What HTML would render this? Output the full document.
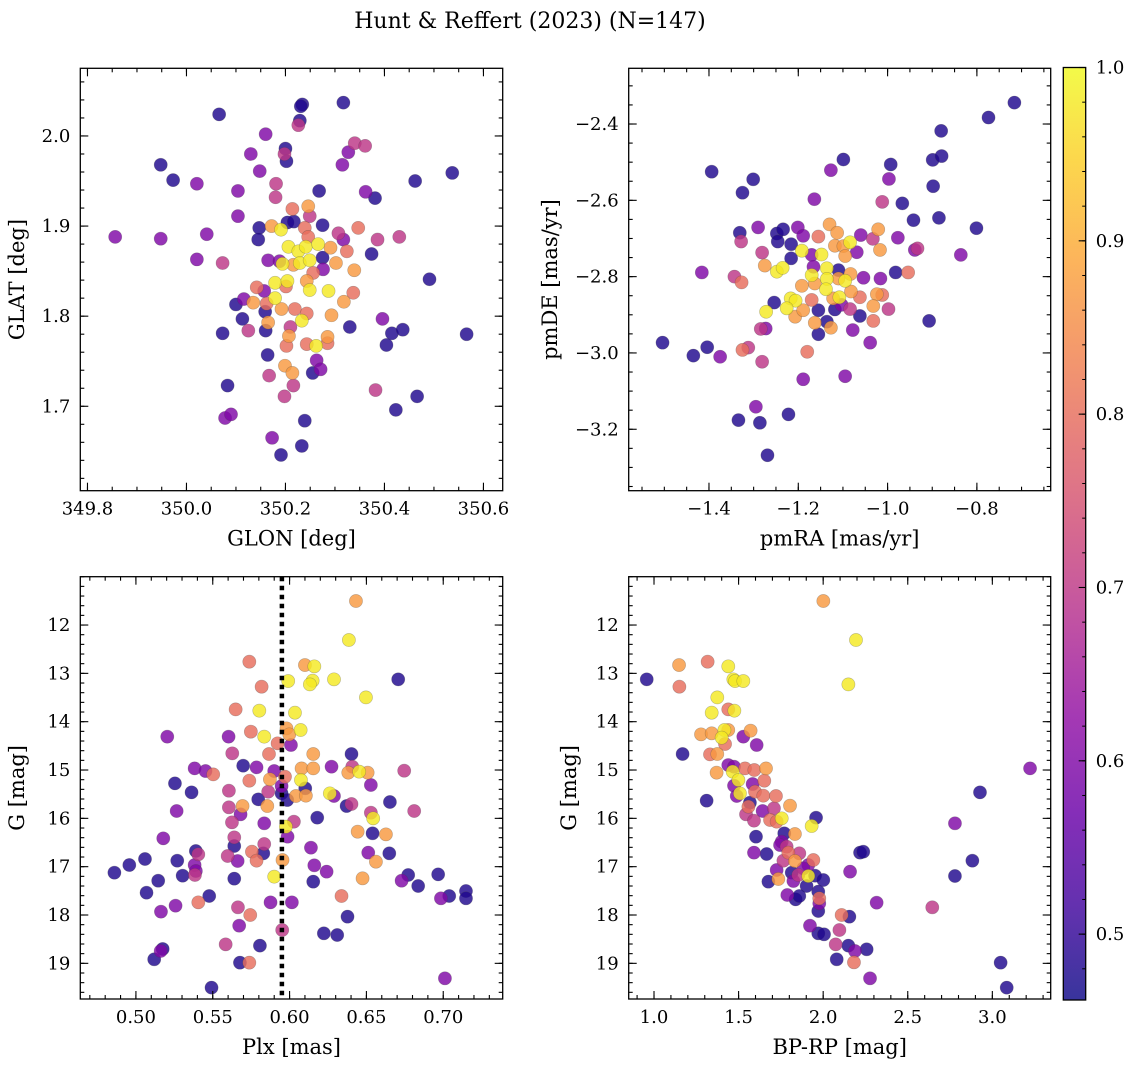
<!DOCTYPE html>
<html><head><meta charset="utf-8"><style>
html,body{margin:0;padding:0;background:#fff;}
svg{display:block;font-family:"DejaVu Serif","Liberation Serif",serif;}
</style></head><body>
<svg id="fig" width="1136" height="1067" viewBox="0 0 1136 1067" xmlns="http://www.w3.org/2000/svg">
<text x="530" y="28" font-size="22" text-anchor="middle">Hunt &amp; Reffert (2023) (N=147)</text>
</svg>
<script>
// ---------- data ----------
const glon1=[350.066,350.234,350.231,350.317,350.229,350.226,350.160,350.340,350.361,350.200,
350.198,350.202,350.130,350.327,349.948,350.315,350.148,350.537,349.973,350.462,
350.021,350.181,350.104,350.268,350.362,350.381,350.180,350.214,350.246,350.249,
350.104,350.172,350.191,350.204,350.217,350.147,350.145,350.239,350.246,350.275,
350.307,350.347,350.317,350.386,350.430,349.856,349.948,350.041,350.206,350.226,
350.241,350.266,350.291,350.324,350.374,350.275,350.021,350.073,350.165,350.188,
350.194,350.216,350.229,350.249,350.276,350.302,350.339,350.256,350.491,350.179,
350.204,350.243,350.201,350.142,350.157,350.249,350.287,350.337,350.116,350.100,
350.135,350.179,350.162,350.192,350.219,350.243,350.293,350.318,350.159,350.113,
350.165,350.233,350.073,350.125,350.160,350.210,350.207,350.202,350.243,350.262,
350.285,350.285,350.330,350.396,350.415,350.437,350.404,350.566,350.164,350.263,
350.271,350.255,350.199,350.214,350.167,350.216,350.083,350.382,350.466,350.198,
350.423,350.078,350.090,350.239,350.173,350.233,350.191];
const glat1=[2.024,2.035,2.033,2.037,2.017,2.012,2.002,1.992,1.989,1.986,
1.980,1.972,1.980,1.982,1.968,1.968,1.961,1.959,1.951,1.950,
1.947,1.947,1.939,1.939,1.938,1.931,1.932,1.919,1.922,1.911,
1.911,1.900,1.896,1.904,1.905,1.898,1.885,1.898,1.888,1.901,
1.892,1.898,1.885,1.885,1.888,1.888,1.886,1.891,1.877,1.872,
1.877,1.880,1.876,1.872,1.869,1.865,1.863,1.859,1.862,1.861,
1.858,1.857,1.859,1.862,1.852,1.859,1.851,1.848,1.841,1.837,
1.839,1.839,1.833,1.832,1.828,1.829,1.828,1.826,1.819,1.813,
1.815,1.820,1.814,1.808,1.808,1.803,1.801,1.816,1.805,1.797,
1.793,1.795,1.781,1.784,1.784,1.788,1.778,1.767,1.769,1.767,
1.777,1.770,1.788,1.797,1.781,1.785,1.768,1.780,1.757,1.751,
1.741,1.737,1.745,1.737,1.734,1.723,1.723,1.718,1.711,1.711,
1.696,1.687,1.691,1.684,1.665,1.656,1.646];
const prob1=[.48,.48,.48,.48,.48,.7,.6,.7,.7,.48,
.7,.48,.6,.6,.48,.6,.6,.48,.48,.48,
.6,.7,.6,.48,.6,.48,.7,.8,.87,.7,
.6,.87,.98,.48,.48,.48,.48,.8,.8,.48,
.7,.8,.6,.7,.7,.6,.6,.6,.98,.98,
.98,.98,.87,.8,.48,.48,.6,.7,.6,.6,
.98,.87,.98,.98,.6,.87,.87,.8,.48,.98,
.98,.87,.8,.8,.6,.98,.98,.8,.6,.48,
.87,.98,.8,.87,.8,.8,.87,.87,.48,.48,
.87,.98,.48,.7,.48,.7,.87,.8,.8,.98,
.87,.8,.48,.6,.48,.48,.48,.48,.48,.6,
.6,.48,.87,.87,.7,.7,.48,.7,.48,.7,
.48,.6,.6,.48,.6,.48,.48];

const pmra2=[-0.716,-0.774,-0.880,-1.099,-0.993,-0.899,-0.879,-1.394,-1.127,-1.301,
-0.997,-1.325,-0.898,-1.164,-1.012,-0.967,-0.942,-0.885,-0.801,-1.331,
-1.290,-1.248,-1.234,-1.201,-1.189,-1.155,-1.130,-1.113,-1.060,-1.021,
-1.328,-1.246,-1.216,-1.281,-1.192,-1.170,-1.148,-1.118,-1.099,-1.084,
-1.095,-1.069,-1.033,-1.017,-0.977,-0.939,-0.933,-0.836,-1.216,-1.275,
-1.248,-1.235,-1.166,-1.136,-1.110,-1.170,-1.136,-1.110,-1.095,-1.083,
-1.054,-1.016,-0.982,-0.954,-1.416,-1.343,-1.327,-1.192,-1.163,-1.138,
-1.082,-1.062,-1.024,-1.012,-1.254,-1.217,-1.206,-1.226,-1.207,-1.189,
-1.170,-1.155,-1.122,-1.108,-1.103,-1.118,-1.084,-1.062,-1.032,-0.998,
-1.272,-1.284,-1.273,-1.163,-1.136,-1.127,-1.155,-1.078,-1.032,-0.907,
-1.504,-1.404,-1.435,-1.375,-1.325,-1.312,-1.281,-1.180,-1.039,-1.189,
-1.095,-1.295,-1.222,-1.334,-1.286,-1.269];
const pmde2=[-2.344,-2.383,-2.418,-2.493,-2.506,-2.494,-2.484,-2.525,-2.521,-2.545,
-2.544,-2.580,-2.563,-2.597,-2.604,-2.608,-2.652,-2.646,-2.673,-2.685,
-2.671,-2.687,-2.676,-2.671,-2.693,-2.695,-2.663,-2.685,-2.691,-2.676,
-2.708,-2.708,-2.715,-2.737,-2.732,-2.743,-2.742,-2.719,-2.720,-2.710,
-2.746,-2.736,-2.701,-2.730,-2.698,-2.730,-2.726,-2.743,-2.752,-2.771,
-2.787,-2.777,-2.774,-2.778,-2.783,-2.796,-2.806,-2.805,-2.811,-2.793,
-2.803,-2.805,-2.789,-2.789,-2.789,-2.800,-2.815,-2.824,-2.818,-2.833,
-2.839,-2.854,-2.846,-2.848,-2.868,-2.857,-2.863,-2.883,-2.905,-2.888,
-2.861,-2.888,-2.857,-2.854,-2.874,-2.886,-2.885,-2.903,-2.877,-2.885,
-2.892,-2.937,-2.936,-2.921,-2.918,-2.934,-2.951,-2.940,-2.916,-2.916,
-2.973,-2.985,-3.007,-3.010,-2.992,-2.986,-3.023,-2.997,-2.973,-3.069,
-3.061,-3.141,-3.161,-3.176,-3.183,-3.268];
const prob2=[.48,.48,.48,.48,.48,.48,.48,.48,.6,.48,
.6,.48,.48,.6,.7,.48,.48,.48,.48,.48,
.6,.48,.48,.6,.6,.8,.87,.87,.6,.87,
.7,.48,.48,.7,.98,.6,.98,.87,.87,.98,
.87,.6,.7,.87,.6,.6,.7,.6,.48,.87,
.98,.98,.6,.98,.48,.98,.98,.87,.98,.87,
.6,.6,.48,.8,.6,.7,.8,.87,.87,.98,
.87,.8,.87,.8,.48,.98,.98,.98,.87,.87,
.8,.48,.87,.98,.6,.48,.7,.48,.87,.7,
.98,.7,.6,.87,.48,.87,.48,.6,.8,.48,
.48,.48,.48,.6,.8,.7,.7,.8,.6,.6,
.6,.6,.48,.48,.48,.48];

const plx3=[0.6432,0.6386,0.5738,0.6100,0.6161,0.5991,0.6150,0.6132,0.6289,0.6707,
0.5818,0.6497,0.5649,0.5803,0.6035,0.6072,0.5980,0.5998,0.5204,0.5603,
0.5748,0.5835,0.5922,0.6009,0.5627,0.5866,0.6154,0.6403,0.5698,0.5785,
0.5382,0.5453,0.5503,0.5900,0.6078,0.6154,0.6273,0.6408,0.6382,0.6453,
0.6508,0.6746,0.5254,0.5738,0.5872,0.5970,0.5948,0.6074,0.6529,0.5362,
0.5605,0.5861,0.5948,0.5985,0.6041,0.6106,0.6102,0.6262,0.6289,0.6653,
0.5796,0.5694,0.5605,0.5855,0.5681,0.6371,0.6403,0.6529,0.6544,0.6811,
0.5265,0.6180,0.5625,0.5835,0.6028,0.5976,0.5987,0.6443,0.6540,0.6627,
0.5178,0.5640,0.5640,0.5835,0.6139,0.5390,0.5406,0.5755,0.5829,0.5597,
0.5785,0.5662,0.5954,0.6512,0.6649,0.6562,0.5059,0.4957,0.5269,0.4860,
0.5382,0.5390,0.5384,0.5304,0.5640,0.5900,0.6161,0.6241,0.6154,0.6475,
0.6772,0.6729,0.6837,0.6967,0.5145,0.5069,0.5477,0.5406,0.5163,0.5258,
0.5664,0.5744,0.5876,0.6015,0.6338,0.6985,0.7039,0.7148,0.7148,0.6377,
0.5672,0.6223,0.6310,0.5952,0.5584,0.5807,0.5174,0.5161,0.5119,0.5677,
0.5738,0.7011,0.5492];
const gmag3=[11.503,12.310,12.759,12.828,12.855,13.159,13.152,13.228,13.124,13.124,
13.276,13.497,13.745,13.772,13.814,14.172,14.138,14.262,14.310,14.310,
14.207,14.310,14.448,14.483,14.655,14.669,14.669,14.669,14.910,14.945,
14.966,15.021,15.090,15.021,14.966,14.966,14.931,14.931,15.055,15.034,
15.055,15.014,15.276,15.221,15.193,15.138,15.331,15.207,15.310,15.462,
15.428,15.448,15.483,15.621,15.538,15.531,15.379,15.483,15.538,15.662,
15.607,15.745,15.772,15.745,15.917,15.745,15.703,15.883,16.000,15.848,
15.848,15.986,16.083,16.103,16.069,16.172,16.379,16.276,16.310,16.331,
16.414,16.393,16.572,16.531,16.607,16.676,16.745,16.690,16.724,16.779,
16.876,16.883,16.862,16.710,16.724,16.897,16.841,16.966,16.876,17.124,
16.966,17.090,17.172,17.186,17.248,17.207,16.972,17.103,17.310,17.241,
17.172,17.290,17.400,17.159,17.290,17.538,17.607,17.738,17.931,17.807,
17.841,18.000,17.738,17.738,17.607,17.655,17.607,17.503,17.655,18.034,
18.221,18.379,18.414,18.310,18.607,18.634,18.703,18.745,18.917,18.986,
18.986,19.310,19.503];
const prob3=[.87,.98,.8,.87,.98,.98,.98,.98,.98,.48,
.8,.98,.8,.98,.98,.98,.87,.87,.6,.6,
.8,.98,.8,.6,.7,.8,.87,.48,.48,.6,
.6,.6,.8,.6,.87,.87,.6,.7,.87,.98,
.87,.7,.48,.8,.87,.8,.6,.98,.6,.48,
.7,.7,.48,.48,.87,.87,.48,.98,.6,.48,
.48,.87,.7,.87,.6,.48,.7,.7,.98,.7,
.6,.48,.7,.6,.7,.98,.6,.87,.48,.87,
.6,.7,.48,.7,.6,.48,.7,.8,.48,.7,
.8,.6,.87,.6,.48,.87,.48,.48,.48,.48,
.6,.6,.7,.48,.48,.98,.6,.6,.48,.87,
.48,.6,.48,.48,.48,.48,.48,.8,.6,.6,
.7,.8,.6,.6,.8,.6,.48,.48,.48,.48,
.6,.48,.48,.7,.7,.48,.48,.6,.48,.48,
.8,.6,.48];
const plxRef=0.595;

const bprp4=[2.001,2.194,1.148,1.317,1.439,0.957,1.150,1.469,1.479,1.528,
2.149,1.374,1.341,1.439,1.475,1.278,1.341,1.416,1.439,1.400,
1.420,1.528,1.571,1.607,1.169,1.331,1.374,1.439,1.473,1.538,
1.593,1.662,1.370,1.465,1.499,1.583,1.652,1.473,1.489,1.508,
1.597,1.646,1.721,1.311,1.567,1.558,1.642,1.709,1.804,1.544,
1.591,1.686,1.725,1.755,1.958,1.932,1.770,1.833,1.603,1.755,
1.784,1.745,1.794,1.859,1.591,1.666,1.765,1.833,1.912,1.942,
1.725,1.814,1.853,1.883,1.912,1.952,2.001,1.824,1.902,1.676,
1.735,1.971,1.977,1.977,1.971,1.788,1.837,1.859,2.218,2.237,
2.159,2.316,2.109,2.155,1.922,1.971,2.005,2.096,2.074,2.149,
2.188,2.257,2.080,2.182,2.277,3.223,2.927,2.779,2.882,2.779,
2.645,3.049,3.085];
const gmag4=[11.503,12.310,12.828,12.759,12.855,13.124,13.276,13.124,13.159,13.159,
13.228,13.497,13.814,13.745,13.772,14.262,14.241,14.172,14.172,14.331,
14.462,14.310,14.186,14.483,14.669,14.676,14.669,14.897,14.931,14.966,
15.000,14.966,15.055,15.034,15.207,15.290,15.221,15.324,15.538,15.483,
15.448,15.531,15.538,15.634,15.676,15.759,15.848,15.793,15.738,15.917,
16.048,16.034,16.069,16.000,15.986,16.159,16.310,16.324,16.379,16.483,
16.586,16.552,16.710,16.724,16.710,16.738,16.876,16.883,16.966,16.862,
17.069,17.124,17.172,17.034,17.193,17.186,17.276,17.297,17.400,17.310,
17.255,17.517,17.655,17.759,17.917,17.586,17.676,17.607,16.710,16.690,
17.103,17.745,18.000,18.034,18.221,18.379,18.400,18.310,18.607,18.634,
18.745,18.710,18.917,18.979,19.310,14.966,15.462,16.103,16.876,17.193,
17.841,18.986,19.503];
const prob4=[.87,.98,.87,.8,.98,.48,.8,.98,.98,.98,
.98,.98,.98,.8,.98,.87,.87,.98,.87,.98,
.8,.6,.87,.6,.48,.8,.87,.6,.6,.8,
.8,.87,.87,.98,.98,.6,.8,.6,.6,.98,
.8,.8,.8,.48,.48,.8,.6,.7,.87,.7,
.7,.8,.8,.98,.48,.98,.48,.87,.48,.6,
.7,.6,.8,.7,.6,.48,.7,.87,.6,.8,
.6,.48,.7,.6,.98,.48,.48,.6,.48,.48,
.87,.48,.8,.6,.48,.6,.48,.48,.48,.48,
.6,.6,.8,.48,.6,.48,.48,.7,.7,.48,
.6,.48,.48,.8,.6,.6,.48,.6,.48,.48,
.7,.48,.48];

const xTicks1=[349.8,350.0,350.2,350.4,350.6];
const yTicks1=[1.7,1.8,1.9,2.0];
const xTicks2=[-1.4,-1.2,-1.0,-0.8];
const yTicks2=[-3.2,-3.0,-2.8,-2.6,-2.4];
const xTicks3=[0.50,0.55,0.60,0.65,0.70];
const yTicks34=[12,13,14,15,16,17,18,19];
const xTicks4=[1.0,1.5,2.0,2.5,3.0];
const cbTicks=[0.5,0.6,0.7,0.8,0.9,1.0];
const cbMin=0.462, cbMax=1.0;

// ---------- helpers ----------
const NS="http://www.w3.org/2000/svg";
const svg=document.getElementById('fig');
function mk(tag,attrs,parent){const e=document.createElementNS(NS,tag);for(const k in attrs)e.setAttribute(k,attrs[k]);(parent||svg).appendChild(e);return e;}
const plasmaStops=[[0,13,8,135],[0.1,65,4,157],[0.2,106,0,168],[0.3,143,13,164],[0.4,177,42,144],[0.5,204,71,120],[0.6,225,100,98],[0.7,242,132,75],[0.8,252,166,54],[0.9,252,206,37],[1,240,249,33]];
function plasma(t){t=Math.max(0,Math.min(1,t));for(let i=1;i<plasmaStops.length;i++){if(t<=plasmaStops[i][0]){const a=plasmaStops[i-1],b=plasmaStops[i];const f=(t-a[0])/(b[0]-a[0]);return `rgb(${Math.round(a[1]+f*(b[1]-a[1]))},${Math.round(a[2]+f*(b[2]-a[2]))},${Math.round(a[3]+f*(b[3]-a[3]))})`;}}return 'rgb(240,249,33)';}
function colorOf(v){return plasma((v-cbMin)/(cbMax-cbMin));}
function fmt(v,d){const s=v.toFixed(d);return s.replace('-','\u2212');}

function panel(c){
  const g=mk('g',{});
  
  
  const sx=v=>c.L+(v-c.x0)/(c.x1-c.x0)*(c.R-c.L);
  const sy=v=>c.B-(v-c.y0)/(c.y1-c.y0)*(c.B-c.T);
  const pg=mk('g',{},g);
  
  
  const idx=c.xs.map((_,i)=>i).sort((a,b)=>c.cs[a]-c.cs[b]);
  idx.forEach(i=>{
    const p=mk('circle',{cx:sx(c.xs[i]),cy:sy(c.ys[i]),r:6.6,fill:colorOf(c.cs[i]),'fill-opacity':0.82,stroke:'#444','stroke-opacity':0.35,'stroke-width':0.6},pg);
    
    
  });
  if(c.extra)c.extra(g,sx,sy);
  const fr=mk('rect',{x:c.L,y:c.T,width:c.R-c.L,height:c.B-c.T,fill:'none',stroke:'#000','stroke-width':1.3},g);
  
  
  const tg=mk('g',{stroke:'#000','stroke-width':1.1},g);
  
  
  const lo=Math.min(c.x0,c.x1),hi=Math.max(c.x0,c.x1);
  for(let v=Math.ceil(lo/c.xm-1e-6)*c.xm;v<=hi+1e-9;v+=c.xm){const x=sx(v);mk('line',{x1:x,x2:x,y1:c.B,y2:c.B-4},tg);mk('line',{x1:x,x2:x,y1:c.T,y2:c.T+4},tg);}
  const ylo=Math.min(c.y0,c.y1),yhi=Math.max(c.y0,c.y1);
  for(let v=Math.ceil(ylo/c.ym-1e-6)*c.ym;v<=yhi+1e-9;v+=c.ym){const y=sy(v);mk('line',{x1:c.L,x2:c.L+4,y1:y,y2:y},tg);mk('line',{x1:c.R,x2:c.R-4,y1:y,y2:y},tg);}
  c.xt.forEach(v=>{const x=sx(v);mk('line',{x1:x,x2:x,y1:c.B,y2:c.B-8},tg);mk('line',{x1:x,x2:x,y1:c.T,y2:c.T+8},tg);
    const t=mk('text',{x:x,y:c.B+24,'font-size':18,'text-anchor':'middle'},g);t.textContent=fmt(v,c.xd);
    
    });
  c.yt.forEach(v=>{const y=sy(v);mk('line',{x1:c.L,x2:c.L+8,y1:y,y2:y},tg);mk('line',{x1:c.R,x2:c.R-8,y1:y,y2:y},tg);
    const t=mk('text',{x:c.L-10,y:y+6,'font-size':18,'text-anchor':'end'},g);t.textContent=fmt(v,c.yd);
    
    });
  const xl=mk('text',{x:(c.L+c.R)/2,y:c.B+55,'font-size':21,'text-anchor':'middle'},g);xl.textContent=c.xlab;
  
  
  const yx=c.ylx, yy=(c.T+c.B)/2;
  const yl=mk('text',{x:yx,y:yy,'font-size':21,'text-anchor':'middle',transform:`rotate(-90 ${yx} ${yy})`},g);yl.textContent=c.ylab;
  
  
}

panel({name:'glon-glat-panel',L:80.3,R:502.7,T:68.3,B:490.7,x0:349.7855,x1:350.6389,y0:1.6063,y1:2.0751,
  xs:glon1,ys:glat1,cs:prob1,xt:xTicks1,yt:yTicks1,xm:0.05,ym:0.02,xd:1,yd:1,xlab:'GLON [deg]',ylab:'GLAT [deg]',ylx:24});
panel({name:'proper-motion-panel',L:628.7,R:1050.7,T:68.3,B:490.7,x0:-1.5798,x1:-0.6347,y0:-3.361,y1:-2.254,
  xs:pmra2,ys:pmde2,cs:prob2,xt:xTicks2,yt:yTicks2,xm:0.05,ym:0.05,xd:1,yd:1,xlab:'pmRA [mas/yr]',ylab:'pmDE [mas/yr]',ylx:557});
panel({name:'parallax-panel',L:80.3,R:502.7,T:576.7,B:999,x0:0.4638,x1:0.7387,y0:19.738,y1:11.0,
  xs:plx3,ys:gmag3,cs:prob3,xt:xTicks3,yt:yTicks34,xm:0.01,ym:0.2,xd:2,yd:0,xlab:'Plx [mas]',ylab:'G [mag]',ylx:24,
  extra:(g,sx,sy)=>{const x=sx(plxRef);const l=mk('line',{x1:x,x2:x,y1:576.7,y2:999,stroke:'#000','stroke-width':4.5,'stroke-dasharray':'4.5 4.5'},g);
    
    }});
panel({name:'cmd-panel',L:628.7,R:1050.7,T:576.7,B:999,x0:0.8504,x1:3.345,y0:19.738,y1:11.0,
  xs:bprp4,ys:gmag4,cs:prob4,xt:xTicks4,yt:yTicks34,xm:0.1,ym:0.2,xd:1,yd:0,xlab:'BP-RP [mag]',ylab:'G [mag]',ylx:576});

// colorbar
(function(){
  const L=1063.3,R=1085.7,T=67.5,B=1000;
  const defs=mk('defs',{});
  const lg=mk('linearGradient',{id:'cbg',x1:0,y1:1,x2:0,y2:0},defs);
  for(let i=0;i<=20;i++){const t=i/20;mk('stop',{offset:t,'stop-color':plasma(t),'stop-opacity':0.82},lg);}
  const g=mk('g',{});
  
  
  mk('rect',{x:L,y:T,width:R-L,height:B-T,fill:'url(#cbg)',stroke:'#000','stroke-width':1.3},g);
  const sy=v=>B-(v-cbMin)/(cbMax-cbMin)*(B-T);
  for(let v=0.48;v<=1.0001;v+=0.02){const y=sy(v);mk('line',{x1:R,x2:R-3.5,y1:y,y2:y,stroke:'#000','stroke-width':1},g);}
  cbTicks.forEach(v=>{const y=sy(v);mk('line',{x1:R,x2:R-7,y1:y,y2:y,stroke:'#000','stroke-width':1.1},g);
    const t=mk('text',{x:R+10,y:y+6,'font-size':18},g);t.textContent=v.toFixed(1);
    
    });
})();
</script>
</body></html>
